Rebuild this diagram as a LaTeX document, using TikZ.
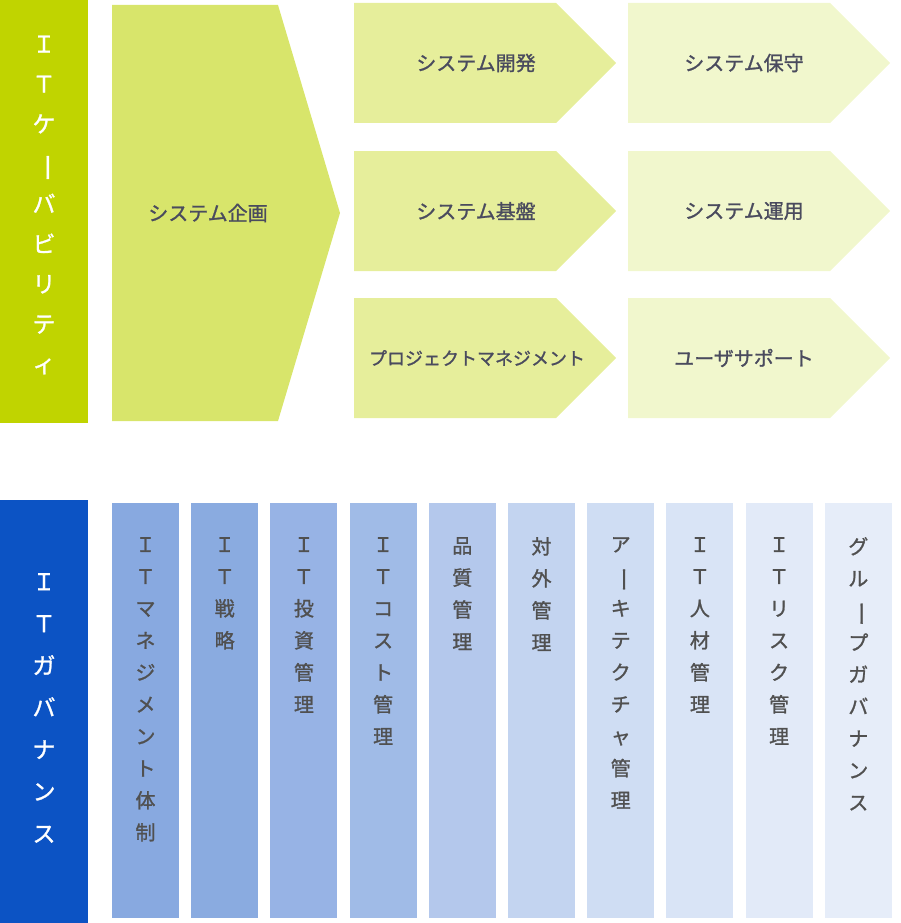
\documentclass[tikz,border=0pt]{standalone}
\usepackage{fontspec}
\setmainfont{Noto Sans CJK JP}[FakeBold=1.2]
\usetikzlibrary{positioning}

\definecolor{capgreen}{HTML}{C0D400}
\definecolor{plangreen}{HTML}{D8E56B}
\definecolor{devgreen}{HTML}{E6EE9B}
\definecolor{opsgreen}{HTML}{F1F7CD}
\definecolor{govblue}{HTML}{0C53C4}
\definecolor{labelgray}{HTML}{4A4B5E}
\definecolor{colgray}{HTML}{505050}

\newcommand{\vbar}{\rotatebox[origin=c]{-90}{\scalebox{1.25}[1]{ー}}}

\tikzset{
  bartitle/.style={text=white, align=center, inner sep=0pt},
  steplabel/.style={text=labelgray, inner sep=0pt, font=\fontsize{20}{20}\selectfont},
  collabel/.style={text=colgray, align=center, inner sep=0pt, anchor=north,
    font=\fontsize{20}{32}\selectfont},
}

\begin{document}
\begin{tikzpicture}[x=1pt,y=-1pt]
  \useasboundingbox (0,0) rectangle (900,923);

  % IT capability
  \fill[capgreen] (0,0) rectangle (88,423);
  \node[bartitle, font=\fontsize{23}{40}\selectfont] (cap) at (44,205)
    {Ｉ\\Ｔ\\ケ\\\vbar\\バ\\ビ\\リ\\テ\\ィ};

  \fill[plangreen] (112,5) -- (278,5) -- (340,213) -- (278,421) -- (112,421) -- cycle;
  \node[steplabel] (plan) at (208,213) {システム企画};

  \foreach \x/\y/\c in {354/3/devgreen, 354/151/devgreen, 354/298/devgreen,
                        628/3/opsgreen, 628/151/opsgreen, 628/298/opsgreen}
    \fill[\c] (\x,\y) -- ++(202,0) -- ++(60,60) -- ++(-60,60) -- ++(-202,0) -- cycle;

  \node[steplabel] (dev) at (476,63) {システム開発};
  \node[steplabel] (infra) at (476,211) {システム基盤};
  \node[steplabel, font=\fontsize{18}{18}\selectfont] (pm) at (477,358) {プロジェクトマネジメント};
  \node[steplabel] (maint) at (744,63) {システム保守};
  \node[steplabel] (ops) at (744,211) {システム運用};
  \node[steplabel] (support) at (744,358) {ユーザサポート};

  % IT governance
  \fill[govblue] (0,500) rectangle (88,923);
  \node[bartitle, font=\fontsize{23}{42}\selectfont] (gov) at (44,708)
    {Ｉ\\Ｔ\\ガ\\バ\\ナ\\ン\\ス};

  \foreach \i/\c/\t in {0/88A9E0/{Ｉ\\Ｔ\\マ\\ネ\\ジ\\メ\\ン\\ト\\体\\制},
                        1/8AABE0/{Ｉ\\Ｔ\\戦\\略},
                        2/97B3E5/{Ｉ\\Ｔ\\投\\資\\管\\理},
                        3/A0BBE7/{Ｉ\\Ｔ\\コ\\ス\\ト\\管\\理},
                        4/B4C8EC/{品\\質\\管\\理},
                        5/C3D4F0/{対\\外\\管\\理},
                        6/CFDDF3/{ア\\\vbar\\キ\\テ\\ク\\チ\\ャ\\管\\理},
                        7/D9E4F6/{Ｉ\\Ｔ\\人\\材\\管\\理},
                        8/E2EAF8/{Ｉ\\Ｔ\\リ\\ス\\ク\\管\\理},
                        9/E6EDF9/{グ\\ル\\\vbar\\プ\\ガ\\バ\\ナ\\ン\\ス}} {
    \definecolor{colfill}{HTML}{\c}
    \fill[colfill] (112+79.2*\i,503) rectangle ++(67,415);
    \node[collabel] (g\i) at (145.5+79.2*\i,537) {\t};
  }
\end{tikzpicture}
\end{document}
